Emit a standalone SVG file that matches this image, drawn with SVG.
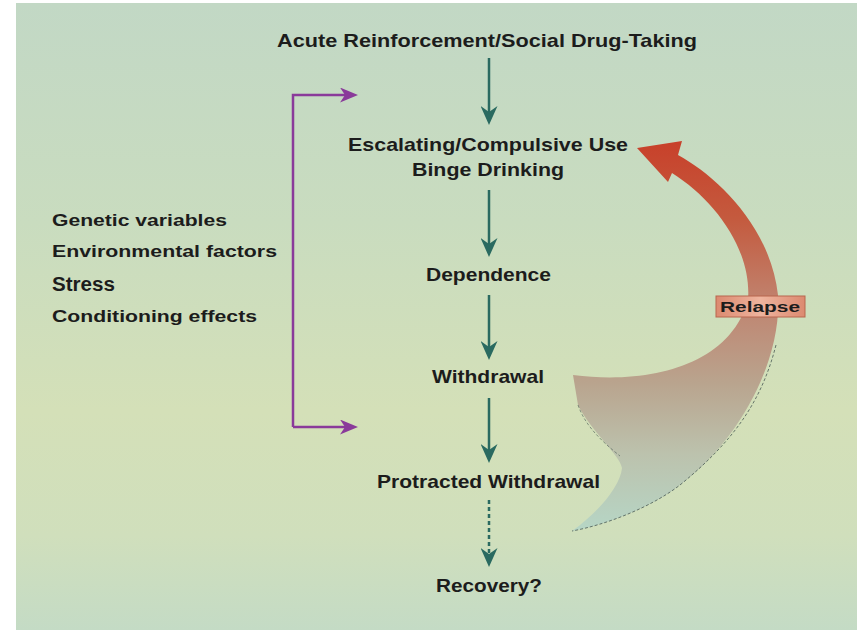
<svg xmlns="http://www.w3.org/2000/svg" width="857" height="630" viewBox="0 0 857 630">
<defs>
<linearGradient id="bg" x1="0" y1="0" x2="0" y2="1">
<stop offset="0" stop-color="#c2d8c5"/>
<stop offset="0.35" stop-color="#c9dcbf"/>
<stop offset="0.65" stop-color="#d4e0b8"/>
<stop offset="0.85" stop-color="#d0dfbc"/>
<stop offset="1" stop-color="#c4dbc5"/>
</linearGradient>
<linearGradient id="relapseGrad" gradientUnits="userSpaceOnUse" x1="0" y1="140" x2="0" y2="532">
<stop offset="0" stop-color="#c8402a"/>
<stop offset="0.2" stop-color="#c45a3e"/>
<stop offset="0.42" stop-color="#c08470"/>
<stop offset="0.62" stop-color="#b9a48e"/>
<stop offset="0.8" stop-color="#bcc2ad"/>
<stop offset="1" stop-color="#b6d6c6"/>
</linearGradient>
<linearGradient id="boxGrad" x1="0" y1="0" x2="1" y2="0">
<stop offset="0" stop-color="#dc8a70"/>
<stop offset="0.5" stop-color="#eeb49e"/>
<stop offset="1" stop-color="#dc8a70"/>
</linearGradient>
<marker id="tealHead" markerUnits="userSpaceOnUse" viewBox="0 0 19 17" refX="6" refY="8.5" markerWidth="19" markerHeight="17" orient="auto">
<path d="M0,0 L19,8.5 L0,17 L6,8.5 Z" fill="#2a6a60"/>
</marker>
<marker id="purpleHead" markerUnits="userSpaceOnUse" viewBox="0 0 18 15" refX="5" refY="7.5" markerWidth="18" markerHeight="15" orient="auto">
<path d="M0,0 L18,7.5 L0,15 L5,7.5 Z" fill="#8a3a9a"/>
</marker>
<style>
.lbl{font-family:"Liberation Sans","Noto Sans",Arial,sans-serif;font-weight:bold;fill:#1c1c1c;}
.main{font-size:19px;text-anchor:middle;}
.side{font-size:16.5px;}
.teal{stroke:#2a6a60;stroke-width:2.5;fill:none;marker-end:url(#tealHead);}
.purple{stroke:#8a3a9a;stroke-width:2.5;fill:none;marker-end:url(#purpleHead);}
</style>
</defs>
<rect x="0" y="0" width="857" height="630" fill="#ffffff"/>
<rect x="16" y="3" width="841" height="627" fill="url(#bg)"/>

<g id="relapse-arrow">
<path d="M637,148 L682,141 L678,155 C715,175 770,225 778,295 C782,360 740,440 680,485 C650,508 605,525 572,531 C595,515 620,488 622,468 C620,455 590,430 578,405 L573,375 C650,385 730,365 748,300 C752,250 715,200 672,173 L668,182 Z" fill="url(#relapseGrad)"/>
<path d="M776,345 C762,400 735,440 680,485 C650,508 605,525 572,531" fill="none" stroke="#4a5a55" stroke-width="1" stroke-dasharray="3,2" opacity="0.8"/>
<path d="M578,405 C585,425 600,440 620,456" fill="none" stroke="#4a5a55" stroke-width="1" stroke-dasharray="3,2" opacity="0.6"/>
</g>

<g id="connectors">
<line class="teal" x1="489" y1="58" x2="489" y2="112"/>
<line class="teal" x1="489" y1="190" x2="489" y2="244"/>
<line class="teal" x1="489" y1="295" x2="489" y2="347"/>
<line class="teal" x1="489" y1="398" x2="489" y2="450"/>
<line class="teal" x1="489" y1="500" x2="489" y2="554" stroke-dasharray="4,3" stroke-width="2"/>
<path class="purple" d="M293,427 L293,95 L345,95"/>
<path class="purple" d="M293,427 L345,427"/>
</g>

<g id="node-acute"><text class="lbl main" x="487" y="47" textLength="420" lengthAdjust="spacingAndGlyphs">Acute Reinforcement/Social Drug-Taking</text></g>
<g id="node-escalating">
<text class="lbl main" x="488" y="151" textLength="280" lengthAdjust="spacingAndGlyphs">Escalating/Compulsive Use</text>
<text class="lbl main" x="488" y="176" textLength="152" lengthAdjust="spacingAndGlyphs">Binge Drinking</text>
</g>
<g id="node-dependence"><text class="lbl main" x="488.5" y="281" textLength="125" lengthAdjust="spacingAndGlyphs">Dependence</text></g>
<g id="node-withdrawal"><text class="lbl main" x="488" y="383" textLength="112" lengthAdjust="spacingAndGlyphs">Withdrawal</text></g>
<g id="node-protracted"><text class="lbl main" x="488.5" y="488" textLength="223" lengthAdjust="spacingAndGlyphs">Protracted Withdrawal</text></g>
<g id="node-recovery"><text class="lbl main" x="489" y="592" textLength="106" lengthAdjust="spacingAndGlyphs">Recovery?</text></g>

<g id="node-factors">
<text class="lbl side" x="52" y="226" textLength="175" lengthAdjust="spacingAndGlyphs">Genetic variables</text>
<text class="lbl side" x="52" y="257" textLength="225" lengthAdjust="spacingAndGlyphs">Environmental factors</text>
<text class="lbl" x="52" y="291" font-size="19.5" textLength="63" lengthAdjust="spacingAndGlyphs">Stress</text>
<text class="lbl side" x="52" y="322" textLength="205" lengthAdjust="spacingAndGlyphs">Conditioning effects</text>
</g>

<g id="node-relapse">
<rect x="716" y="296" width="89" height="21" fill="url(#boxGrad)" stroke="#b8664e" stroke-width="1"/>
<text class="lbl" x="720" y="312" font-size="14" textLength="80" lengthAdjust="spacingAndGlyphs">Relapse</text>
</g>
</svg>
